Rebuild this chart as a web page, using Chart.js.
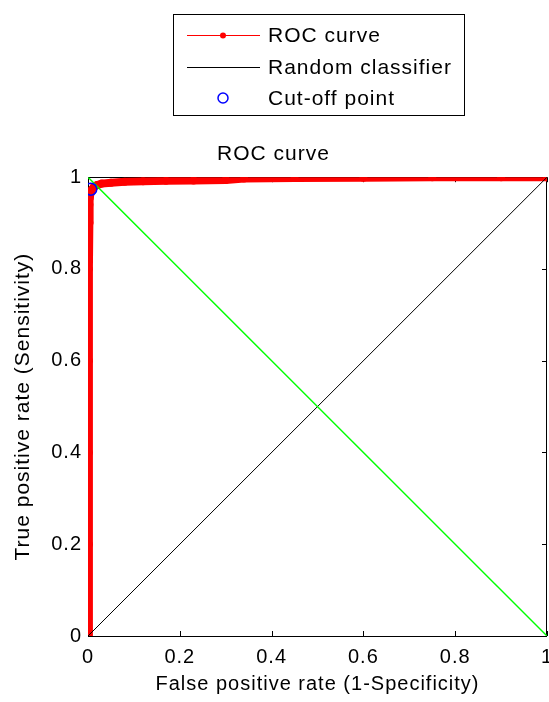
<!DOCTYPE html>
<html>
<head>
<meta charset="utf-8">
<title>ROC curve</title>
<script src="https://cdn.jsdelivr.net/npm/chart.js@4/dist/chart.umd.min.js"></script>
<style>
  html, body { margin: 0; padding: 0; background: #fff; }
  canvas { display: block; }
</style>
</head>
<body>
<canvas id="roc" width="549" height="702"></canvas>
<script>
// ROC curve: false positive rate vs true positive rate
const rocFpr = [0, 0.002, 0.002, 0.002, 0.002, 0.003, 0.003, 0.004, 0.006, 0.009, 0.013, 0.02, 0.03, 0.05, 0.08, 0.12, 0.17, 0.23, 0.3, 0.34, 0.45, 0.6, 0.75, 0.9, 1];
const rocTpr = [0, 0.2, 0.4, 0.6, 0.8, 0.9, 0.94, 0.955, 0.966, 0.974, 0.979, 0.983, 0.986, 0.988, 0.99, 0.991, 0.992, 0.993, 0.994, 0.997, 0.998, 0.999, 1, 1, 1];

// Random classifier diagonal
const randomFpr = [0, 1];
const randomTpr = [0, 1];

// Anti-diagonal (equal error line)
const eerFpr = [0, 1];
const eerTpr = [1, 0];

// Chosen cut-off point
const cutoffFpr = [0.006];
const cutoffTpr = [0.974];

// Axis ticks
const xTicks = [0, 0.2, 0.4, 0.6, 0.8, 1];
const yTicks = [0, 0.2, 0.4, 0.6, 0.8, 1];

const legendItems = ['ROC curve', 'Random classifier', 'Cut-off point'];

const toPoints = (xs, ys) => xs.map((x, i) => ({ x: x, y: ys[i] }));
const FONT = 'Liberation Sans, Arial, Helvetica, sans-serif';

// Slightly wider text spacing for every label on the canvas
const textSpacing = {
  id: 'textSpacing',
  beforeDraw(chart) { chart.ctx.letterSpacing = '1px'; }
};

// Box around the axes with inward ticks on all four sides
const axesBox = {
  id: 'axesBox',
  beforeDatasetsDraw(chart) {
    const { ctx, chartArea: a, scales } = chart;
    ctx.save();
    ctx.strokeStyle = '#000';
    ctx.lineWidth = 1;
    ctx.strokeRect(Math.round(a.left) + 0.5, Math.round(a.top) + 0.5,
                   Math.round(a.right - a.left) - 1, Math.round(a.bottom - a.top));
    const tl = 5;
    ctx.beginPath();
    scales.x.ticks.forEach(t => {
      const px = Math.round(scales.x.getPixelForValue(t.value)) + 0.5;
      ctx.moveTo(px, a.bottom); ctx.lineTo(px, a.bottom - tl);
      ctx.moveTo(px, a.top); ctx.lineTo(px, a.top + tl);
    });
    scales.y.ticks.forEach(t => {
      const py = Math.round(scales.y.getPixelForValue(t.value)) + 0.5;
      ctx.moveTo(a.left, py); ctx.lineTo(a.left + tl, py);
      ctx.moveTo(a.right, py); ctx.lineTo(a.right - tl, py);
    });
    ctx.stroke();
    ctx.restore();
  }
};

// Boxed legend with line/marker samples, stacked vertically
const boxLegend = {
  id: 'boxLegend',
  afterDraw(chart) {
    const ctx = chart.ctx;
    const bx = 173, by = 14, bw = 292, bh = 102;
    ctx.save();
    ctx.fillStyle = '#fff';
    ctx.fillRect(bx, by, bw, bh);
    ctx.strokeStyle = '#000';
    ctx.lineWidth = 1;
    ctx.strokeRect(bx + 0.5, by + 0.5, bw - 1, bh - 1);
    const rows = [35, 67, 98];
    const x0 = 187, x1 = 260, xm = 223, tx = 268;
    // ROC curve sample
    ctx.strokeStyle = '#ff0000';
    ctx.lineWidth = 1;
    ctx.beginPath(); ctx.moveTo(x0, rows[0] + 0.5); ctx.lineTo(x1, rows[0] + 0.5); ctx.stroke();
    ctx.fillStyle = '#ff0000';
    ctx.beginPath(); ctx.arc(xm, rows[0] + 0.5, 3, 0, Math.PI * 2); ctx.fill();
    // Random classifier sample
    ctx.strokeStyle = '#000';
    ctx.beginPath(); ctx.moveTo(x0, rows[1] + 0.5); ctx.lineTo(x1, rows[1] + 0.5); ctx.stroke();
    // Cut-off marker sample
    ctx.strokeStyle = '#0000ff';
    ctx.lineWidth = 1.5;
    ctx.beginPath(); ctx.arc(xm, rows[2], 5, 0, Math.PI * 2); ctx.stroke();
    // Labels
    ctx.fillStyle = '#000';
    ctx.font = '21px ' + FONT;
    ctx.textBaseline = 'middle';
    ctx.textAlign = 'left';
    legendItems.forEach((txt, i) => ctx.fillText(txt, tx, rows[i] + 1));
    ctx.restore();
  }
};

new Chart(document.getElementById('roc'), {
  type: 'scatter',
  data: {
    datasets: [
      {
        label: legendItems[2],
        data: toPoints(cutoffFpr, cutoffTpr),
        showLine: false,
        pointRadius: 6,
        pointHoverRadius: 6,
        pointStyle: 'circle',
        pointBorderColor: '#0000ff',
        pointBackgroundColor: 'rgba(0,0,0,0)',
        pointBorderWidth: 1.5
      },
      {
        label: 'Equal error line',
        data: toPoints(eerFpr, eerTpr),
        showLine: true,
        borderColor: '#00ff00',
        borderWidth: 1.4,
        pointRadius: 0
      },
      {
        label: legendItems[1],
        data: toPoints(randomFpr, randomTpr),
        showLine: true,
        borderColor: '#000000',
        borderWidth: 1,
        pointRadius: 0
      },
      {
        label: legendItems[0],
        data: toPoints(rocFpr, rocTpr),
        showLine: true,
        borderColor: '#ff0000',
        borderWidth: 8,
        borderCapStyle: 'round',
        borderJoinStyle: 'round',
        pointRadius: 4,
        pointBackgroundColor: '#ff0000',
        pointBorderColor: '#ff0000',
        pointBorderWidth: 0
      }
    ]
  },
  options: {
    responsive: false,
    animation: false,
    events: [],
    layout: { autoPadding: false, padding: { top: 130, right: 2, left: 0, bottom: 0 } },
    plugins: {
      legend: { display: false },
      tooltip: { enabled: false },
      title: {
        display: true,
        text: 'ROC curve',
        color: '#000',
        font: { family: FONT, size: 21, weight: 'normal', lineHeight: 1.2 },
        padding: { top: 12, bottom: 10 }
      }
    },
    scales: {
      x: {
        type: 'linear',
        min: 0,
        max: 1,
        afterBuildTicks: s => { s.ticks = xTicks.map(v => ({ value: v })); },
        afterFit: s => { s.height = 66; s.paddingLeft = 0; s.paddingRight = 0; },
        grid: { display: false, drawTicks: false },
        border: { display: false },
        ticks: {
          color: '#000',
          padding: 9,
          maxRotation: 0,
          font: { family: FONT, size: 20 },
          callback: v => String(+(+v).toFixed(1))
        },
        title: {
          display: true,
          text: 'False positive rate (1-Specificity)',
          color: '#000',
          font: { family: FONT, size: 20, lineHeight: 1.2 },
          padding: { top: 0, bottom: 6 }
        }
      },
      y: {
        type: 'linear',
        min: 0,
        max: 1,
        afterBuildTicks: s => { s.ticks = yTicks.map(v => ({ value: v })); },
        afterFit: s => { s.width = 88; s.paddingTop = 0; s.paddingBottom = 0; },
        grid: { display: false, drawTicks: false },
        border: { display: false },
        ticks: {
          color: '#000',
          padding: 6,
          font: { family: FONT, size: 20 },
          callback: v => String(+(+v).toFixed(1))
        },
        title: {
          display: true,
          text: 'True positive rate (Sensitivity)',
          color: '#000',
          font: { family: FONT, size: 21, lineHeight: 1.2 },
          padding: { top: 11, bottom: 0 }
        }
      }
    }
  },
  plugins: [textSpacing, axesBox, boxLegend]
});
</script>
</body>
</html>
